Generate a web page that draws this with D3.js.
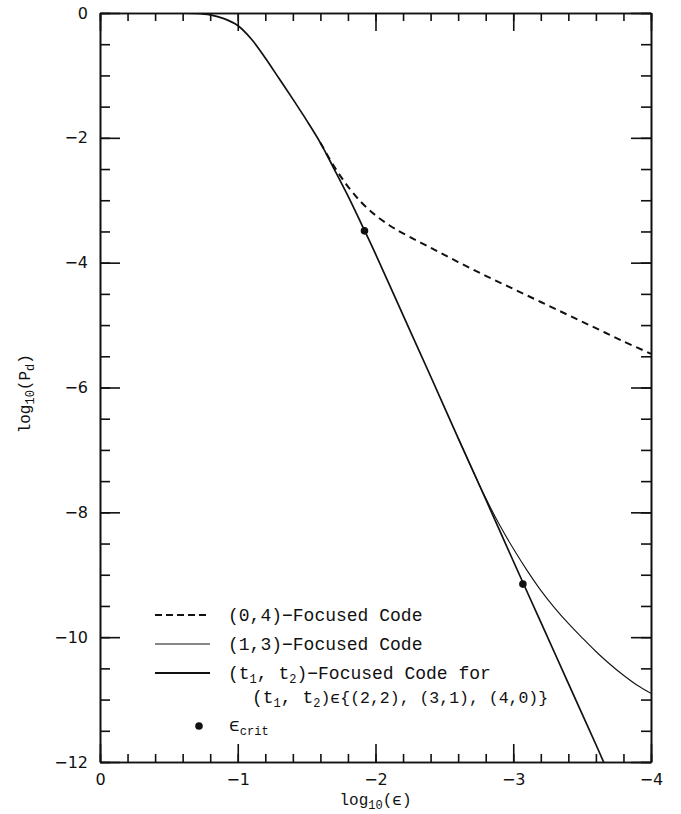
<!DOCTYPE html>
<html>
<head>
  <script src="https://d3js.org/d3.v7.min.js"></script>
  <style>
    body { margin: 0; background: #fff; }
    .tick text { font: 16px "DejaVu Sans", sans-serif; fill: #111; }
    .tick line, .domain { stroke: #111; stroke-width: 1.6; }
    .mono { font-family: "Liberation Mono", "DejaVu Sans Mono", monospace; fill: #111; }
  </style>
</head>
<body>
  <svg id="chart" width="681" height="814"></svg>
  <script>
    // log10(eps) vs log10(Pd)
    var mainX = [0, -0.6, -0.7, -0.8, -0.9, -1.0, -1.1, -1.2, -1.3, -1.4, -1.5, -1.6, -1.7, -1.8, -1.9, -2.0, -2.2, -2.4, -2.6, -2.8, -3.0, -3.2, -3.4, -3.6, -3.66];
    var mainY = [0, 0, -0.005, -0.03, -0.09, -0.2, -0.42, -0.72, -1.05, -1.38, -1.72, -2.08, -2.5, -2.93, -3.39, -3.86, -4.84, -5.82, -6.81, -7.79, -8.78, -9.76, -10.74, -11.72, -12.02];

    var code04X = [-1.6, -1.7, -1.8, -1.9, -2.0, -2.1, -2.2, -2.4, -2.6, -2.8, -3.0, -3.2, -3.4, -3.6, -3.8, -4.0];
    var code04Y = [-2.08, -2.46, -2.78, -3.04, -3.24, -3.4, -3.53, -3.76, -3.99, -4.21, -4.42, -4.63, -4.84, -5.05, -5.26, -5.46];

    var code13X = [-2.6, -2.7, -2.8, -2.9, -3.0, -3.1, -3.2, -3.3, -3.4, -3.5, -3.6, -3.7, -3.8, -3.9, -4.0];
    var code13Y = [-6.81, -7.3, -7.77, -8.2, -8.58, -8.93, -9.25, -9.53, -9.78, -10.01, -10.23, -10.43, -10.61, -10.77, -10.9];

    var critX = [-1.92, -3.07];
    var critY = [-3.49, -9.15];

    var xTicks = [0, -1, -2, -3, -4];
    var yTicks = [0, -2, -4, -6, -8, -10, -12];

    var pLeft = 100, pRight = 651, pTop = 13, pBottom = 762;

    var x = d3.scaleLinear().domain([0, -4]).range([pLeft, pRight]);
    var y = d3.scaleLinear().domain([0, -12]).range([pTop, pBottom]);

    var svg = d3.select('#chart');

    function fmt(d) { return d === 0 ? '0' : '\u2212' + Math.abs(d); }

    var xMinor = d3.range(0, -4.001, -0.2);
    var yMinor = d3.range(0, -12.001, -0.5);

    // bottom axis
    svg.append('g').attr('transform', 'translate(0,' + pBottom + ')')
      .call(d3.axisBottom(x).tickValues(xMinor).tickSize(-8).tickFormat('').tickSizeOuter(0));
    svg.append('g').attr('transform', 'translate(0,' + pBottom + ')')
      .call(d3.axisBottom(x).tickValues(xTicks).tickSize(-18).tickPadding(12).tickFormat(fmt).tickSizeOuter(0));
    // top axis
    svg.append('g').attr('transform', 'translate(0,' + pTop + ')')
      .call(d3.axisTop(x).tickValues(xMinor).tickSize(-8).tickFormat('').tickSizeOuter(0));
    svg.append('g').attr('transform', 'translate(0,' + pTop + ')')
      .call(d3.axisTop(x).tickValues(xTicks).tickSize(-18).tickFormat('').tickSizeOuter(0));
    // left axis
    svg.append('g').attr('transform', 'translate(' + pLeft + ',0)')
      .call(d3.axisLeft(y).tickValues(yMinor).tickSize(-10).tickFormat('').tickSizeOuter(0));
    svg.append('g').attr('transform', 'translate(' + pLeft + ',0)')
      .call(d3.axisLeft(y).tickValues(yTicks).tickSize(-20).tickPadding(12).tickFormat(fmt).tickSizeOuter(0));
    // right axis
    svg.append('g').attr('transform', 'translate(' + pRight + ',0)')
      .call(d3.axisRight(y).tickValues(yMinor).tickSize(-10).tickFormat('').tickSizeOuter(0));
    svg.append('g').attr('transform', 'translate(' + pRight + ',0)')
      .call(d3.axisRight(y).tickValues(yTicks).tickSize(-20).tickFormat('').tickSizeOuter(0));

    svg.append('clipPath').attr('id', 'plot')
      .append('rect').attr('x', pLeft).attr('y', pTop).attr('width', pRight - pLeft).attr('height', pBottom - pTop);

    var line = d3.line()
      .x(function (d) { return x(d[0]); })
      .y(function (d) { return y(d[1]); })
      .curve(d3.curveCatmullRom);

    var plot = svg.append('g').attr('clip-path', 'url(#plot)');

    plot.append('path').datum(d3.zip(code13X, code13Y))
      .attr('d', line).attr('fill', 'none').attr('stroke', '#111').attr('stroke-width', 1.1);
    plot.append('path').datum(d3.zip(code04X, code04Y))
      .attr('d', line).attr('fill', 'none').attr('stroke', '#111').attr('stroke-width', 2)
      .attr('stroke-dasharray', '7,5');
    plot.append('path').datum(d3.zip(mainX, mainY))
      .attr('d', line).attr('fill', 'none').attr('stroke', '#111').attr('stroke-width', 1.7);

    plot.selectAll('circle.crit').data(d3.zip(critX, critY)).enter()
      .append('circle').attr('class', 'crit')
      .attr('cx', function (d) { return x(d[0]); })
      .attr('cy', function (d) { return y(d[1]); })
      .attr('r', 3.8).attr('fill', '#111');

    // legend
    var lg = svg.append('g');
    var rows = [
      { y: 615, dash: '7,4', w: 1.8 },
      { y: 644, dash: null, w: 1.1 },
      { y: 673, dash: null, w: 2 }
    ];
    rows.forEach(function (r) {
      lg.append('line').attr('x1', 155).attr('x2', 210).attr('y1', r.y).attr('y2', r.y)
        .attr('stroke', '#111').attr('stroke-width', r.w).attr('stroke-dasharray', r.dash);
    });

    function sub(t, s) {
      t.append('tspan').attr('font-size', 12).attr('dy', 4).text(s);
      return t;
    }
    function txt(xp, yp) {
      return lg.append('text').attr('class', 'mono').attr('x', xp).attr('y', yp).attr('font-size', 18);
    }
    txt(228, 621).text('(0,4)\u2212Focused Code');
    txt(228, 650).text('(1,3)\u2212Focused Code');

    var t3 = txt(228, 679);
    t3.append('tspan').text('(t');
    sub(t3, '1');
    t3.append('tspan').attr('dy', -4).text(', t');
    sub(t3, '2');
    t3.append('tspan').attr('dy', -4).text(')\u2212Focused Code for');

    var t4 = txt(252, 703);
    t4.append('tspan').text('(t');
    sub(t4, '1');
    t4.append('tspan').attr('dy', -4).text(', t');
    sub(t4, '2');
    t4.append('tspan').attr('dy', -4).attr('font-size', 16.5).text(')\u03f5{(2,2), (3,1), (4,0)}');

    lg.append('circle').attr('cx', 199).attr('cy', 726).attr('r', 3.8).attr('fill', '#111');
    var t5 = txt(229, 731);
    t5.append('tspan').text('\u03f5');
    sub(t5, 'crit');

    // axis titles
    var xt = svg.append('text').attr('class', 'mono').attr('font-size', 16)
      .attr('x', x(-2)).attr('y', 805).attr('text-anchor', 'middle');
    xt.append('tspan').text('log');
    sub(xt, '10');
    xt.append('tspan').attr('dy', -4).text('(\u03f5)');

    var yt = svg.append('text').attr('class', 'mono').attr('font-size', 16)
      .attr('text-anchor', 'middle')
      .attr('transform', 'translate(30,' + y(-6.1) + ') rotate(-90)');
    yt.append('tspan').text('log');
    sub(yt, '10');
    yt.append('tspan').attr('dy', -4).text('(P');
    sub(yt, 'd');
    yt.append('tspan').attr('dy', -4).text(')');
  </script>
</body>
</html>
